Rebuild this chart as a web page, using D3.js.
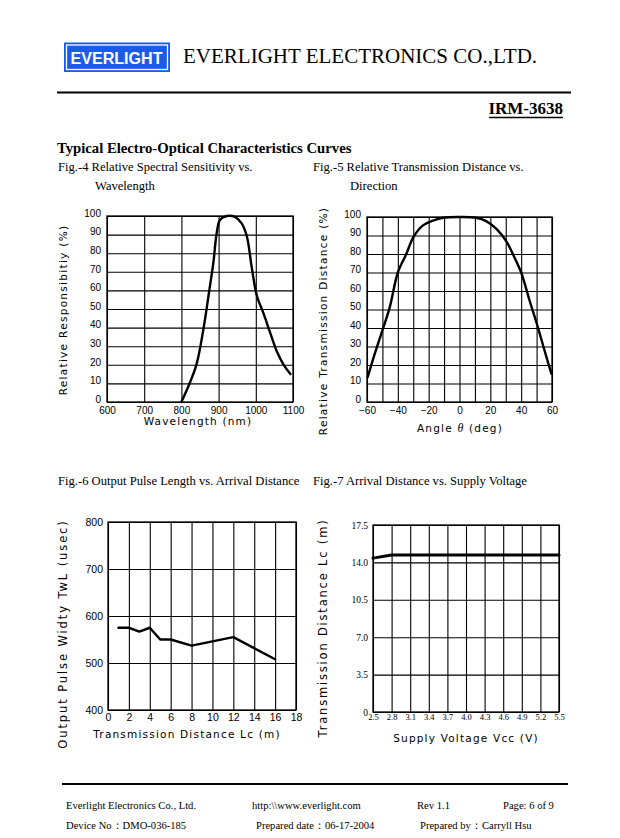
<!DOCTYPE html>
<html><head><meta charset="utf-8">
<script src="https://cdn.jsdelivr.net/npm/d3@7/dist/d3.min.js"></script>
<style>body{margin:0;background:#fff} svg{display:block}</style>
</head><body><svg id="c" width="620" height="838"></svg>
<script>
// ---- data ----
const fig4Wavelength=[800,823,841,859,875,886,895,904,922,944,962,976,989,1003,1021,1039,1057,1075,1093];
const fig4Response=[0,10.5,20.5,39,60,75,91,98,100,99.5,96,89,72.5,57,47.5,37,27,20,15];
const fig4XTicks=[600,700,800,900,1000,1100];
const fig4YTicks=[0,10,20,30,40,50,60,70,80,90,100];

const fig5Angle=[-59.5,-55,-50.7,-45.3,-40,-34.5,-30,-23.7,-17.2,-10.7,0,10.8,17.3,23.8,30.3,34.6,40,45.4,50.8,55.1,59.6];
const fig5Distance=[13.5,26,37,51,70,80,89,95.5,98,99.6,100,99.6,97.8,93.7,87,80,70,55,40.5,28,15.3];
const fig5XTicks=[-60,-40,-20,0,20,40,60];
const fig5XGrid=[-60,-50,-40,-30,-20,-10,0,10,20,30,40,50,60];
const fig5YTicks=[0,10,20,30,40,50,60,70,80,90,100];

const fig6Distance=[1,2,3,4,5,6,8,12,16];
const fig6Width=[575,575,567,575,550,550,537,555,508];
const fig6XTicks=[0,2,4,6,8,10,12,14,16,18];
const fig6YTicks=[400,500,600,700,800];

const fig7Voltage=[2.5,2.8,3.1,3.4,3.7,4.0,4.3,4.6,4.9,5.2,5.5];
const fig7Distance=[14.4,14.7,14.7,14.7,14.7,14.7,14.7,14.7,14.7,14.7,14.7];
const fig7XTicks=[2.5,2.8,3.1,3.4,3.7,4.0,4.3,4.6,4.9,5.2,5.5];
const fig7XLabels=["2.5","2.8","3.1","3.4","3.7","4.0","4.3","4.6","4.9","5.2","5.5"];
const fig7YTicks=[0,3.5,7,10.5,14,17.5];
const fig7YLabels=["0","3.5","7.0","10.5","14.0","17.5"];

// ---- drawing ----
const svg=d3.select("#c");
const SERIF="'Liberation Serif','Times New Roman',serif";
const SANS="'Liberation Sans',Arial,sans-serif";
const CAD="'DejaVu Sans',sans-serif";

// header
const logo=svg.append("g");
logo.append("rect").attr("x",64).attr("y",42.5).attr("width",106).attr("height",29.5).attr("fill","#1c5ae8");
logo.append("rect").attr("x",66.5).attr("y",45).attr("width",101).attr("height",24.5).attr("fill","none").attr("stroke","#fff").attr("stroke-width",1.3);
logo.append("text").attr("x",70.5).attr("y",63.5).attr("font-family",SANS).attr("font-weight","bold").attr("font-size",16)
  .attr("fill","#fff").attr("textLength",92).attr("lengthAdjust","spacingAndGlyphs").text("EVERLIGHT");
svg.append("text").attr("x",183).attr("y",63).attr("font-family",SERIF).attr("font-size",21).text("EVERLIGHT ELECTRONICS CO.,LTD.");
svg.append("line").attr("x1",57).attr("x2",571).attr("y1",92.5).attr("y2",92.5).attr("stroke","#000").attr("stroke-width",2);
svg.append("text").attr("x",563).attr("y",114).attr("text-anchor","end").attr("font-family",SERIF).attr("font-weight","bold").attr("font-size",17).text("IRM-3638");
svg.append("line").attr("x1",489).attr("x2",563).attr("y1",117.5).attr("y2",117.5).attr("stroke","#000").attr("stroke-width",1.3);

svg.append("text").attr("x",57).attr("y",153).attr("font-family",SERIF).attr("font-weight","bold").attr("font-size",14.7).text("Typical Electro-Optical Characteristics Curves");
function cap(x,y,t){svg.append("text").attr("x",x).attr("y",y).attr("font-family",SERIF).attr("font-size",12.6).text(t);}
cap(58,171,"Fig.-4 Relative Spectral Sensitivity vs.");
cap(95,190,"Wavelength");
cap(313,171,"Fig.-5 Relative Transmission Distance vs.");
cap(350,190,"Direction");
cap(58,485,"Fig.-6 Output Pulse Length vs. Arrival Distance");
cap(313,485,"Fig.-7 Arrival Distance vs. Supply Voltage");

function plot(o){
  const g=svg.append("g");
  const x=d3.scaleLinear().domain(o.xDomain).range([o.x0,o.x1]);
  const y=d3.scaleLinear().domain(o.yDomain).range([o.y0,o.y1]);
  const h=o.y0-o.y1, w=o.x1-o.x0;
  const gx=g.append("g").attr("transform",`translate(0,${o.y0})`)
    .call(d3.axisBottom(x).tickValues(o.xGrid).tickSize(-h).tickFormat(""));
  const gy=g.append("g").attr("transform",`translate(${o.x0},0)`)
    .call(d3.axisLeft(y).tickValues(o.yGrid).tickSize(-w).tickFormat(""));
  [gx,gy].forEach(a=>{a.select(".domain").remove();a.selectAll("line").attr("stroke","#000").attr("stroke-width",1.1);});
  g.append("rect").attr("x",o.x0).attr("y",o.y1).attr("width",w).attr("height",h).attr("fill","none").attr("stroke","#000").attr("stroke-width",1.3);
  const lx=g.append("g").attr("transform",`translate(0,${o.y0})`)
    .call(d3.axisBottom(x).tickValues(o.xTicks).tickSize(0).tickPadding(o.xPad).tickFormat((d,i)=>o.xLabels?o.xLabels[i]:d3.format("")(d)));
  const ly=g.append("g").attr("transform",`translate(${o.x0},${o.yShift||0})`)
    .call(d3.axisLeft(y).tickValues(o.yTicks).tickSize(0).tickPadding(o.yPad).tickFormat((d,i)=>o.yLabels?o.yLabels[i]:d));
  [lx,ly].forEach(a=>a.select(".domain").remove());
  lx.selectAll("text").attr("font-family",o.xFont).attr("font-size",o.xSize).attr("fill","#000");
  ly.selectAll("text").attr("font-family",o.yFont).attr("font-size",o.ySize).attr("fill","#000");
  const line=d3.line().x(d=>x(d[0])).y(d=>y(d[1])).curve(o.curve);
  g.append("path").datum(d3.zip(o.xs,o.ys)).attr("d",line).attr("fill","none").attr("stroke","#000")
    .attr("stroke-width",o.lw).attr("stroke-linejoin","round").attr("stroke-linecap","round");
  g.append("text").attr("x",o.xtX).attr("y",o.xtY).attr("text-anchor","middle").attr("font-family",CAD)
    .attr("font-size",10.5).attr("letter-spacing",1.2).html(o.xTitle);
  g.append("text").attr("transform",`translate(${o.ytX},${o.ytY}) rotate(-90)`).attr("text-anchor","middle").attr("font-family",CAD)
    .attr("font-size",o.ytSize).attr("letter-spacing",o.ytLs).text(o.yTitle);
}

plot({x0:107,x1:293,y0:402,y1:216,xDomain:[600,1100],yDomain:[0,100],
  xGrid:fig4XTicks,yGrid:fig4YTicks,xTicks:fig4XTicks,yTicks:fig4YTicks,xPad:5,yPad:6,yShift:-3,
  xFont:SANS,xSize:10,yFont:SANS,ySize:10,
  xs:fig4Wavelength,ys:fig4Response,curve:d3.curveCatmullRom.alpha(0.5),lw:2.4,
  xTitle:"Wavelength (nm)",xtX:198,xtY:425,yTitle:"Relative Responsibitiy (%)",ytX:67,ytY:310,ytSize:10.5,ytLs:1.3});

plot({x0:367,x1:552,y0:402,y1:217,xDomain:[-60,60],yDomain:[0,100],
  xGrid:fig5XGrid,yGrid:fig5YTicks,xTicks:fig5XTicks,yTicks:fig5YTicks,xPad:5,yPad:6,yShift:-3,
  xFont:SANS,xSize:10,yFont:SANS,ySize:10,
  xs:fig5Angle,ys:fig5Distance,curve:d3.curveCatmullRom.alpha(0.5),lw:2.4,
  xTitle:"Angle <tspan font-family=\"'Liberation Serif',serif\" font-style=\"italic\" font-size=\"12\">θ</tspan> (deg)",xtX:460,xtY:432,
  yTitle:"Relative Transmission Distance (%)",ytX:327,ytY:321,ytSize:10.5,ytLs:1.3});

plot({x0:108,x1:296,y0:710,y1:522,xDomain:[0,18],yDomain:[400,800],
  xGrid:fig6XTicks,yGrid:fig6YTicks,xTicks:fig6XTicks,yTicks:fig6YTicks,xPad:4,yPad:5,
  xFont:SANS,xSize:10.5,yFont:SANS,ySize:10.5,
  xs:fig6Distance,ys:fig6Width,curve:d3.curveLinear,lw:2.4,
  xTitle:"Transmission Distance Lc (m)",xtX:187,xtY:738,yTitle:"Output Pulse Widty TwL (usec)",ytX:67,ytY:634,ytSize:11.5,ytLs:1.9});

plot({x0:373,x1:559,y0:712,y1:525,xDomain:[2.5,5.5],yDomain:[0,17.5],
  xGrid:fig7XTicks,yGrid:fig7YTicks,xTicks:fig7XTicks,xLabels:fig7XLabels,yTicks:fig7YTicks,yLabels:fig7YLabels,xPad:2,yPad:5,
  xFont:SERIF,xSize:8.5,yFont:SERIF,ySize:9.5,
  xs:fig7Voltage,ys:fig7Distance,curve:d3.curveLinear,lw:3,
  xTitle:"Supply Voltage Vcc (V)",xtX:466,xtY:742,yTitle:"Transmission Distance Lc (m)",ytX:327,ytY:628,ytSize:11.5,ytLs:1.8});

// footer
svg.append("line").attr("x1",62).attr("x2",568).attr("y1",784).attr("y2",784).attr("stroke","#000").attr("stroke-width",2);
function foot(x,y,t){svg.append("text").attr("x",x).attr("y",y).attr("font-family",SERIF).attr("font-size",10.6).text(t);}
foot(66,809,"Everlight Electronics Co., Ltd.");
foot(252,809,"http:\\\\www.everlight.com");
foot(417,809,"Rev 1.1");
foot(503,809,"Page: 6 of 9");
foot(66,829,"Device No：DMO-036-185");
foot(256,829,"Prepared date：06-17-2004");
foot(420,829,"Prepared by：Carryll Hsu");
</script></body></html>
